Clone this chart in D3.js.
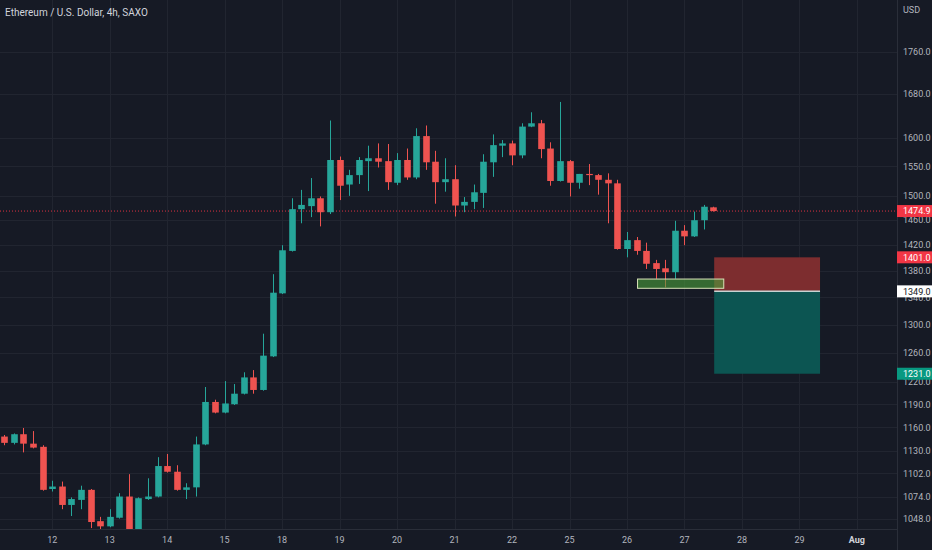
<!DOCTYPE html>
<html><head><meta charset="utf-8">
<script src="https://cdn.jsdelivr.net/npm/d3@7"></script>
<style>html,body{margin:0;padding:0;background:#161a25;overflow:hidden}</style>
</head><body><svg id="c" width="932" height="550"></svg>
<script>
// ---- data (4h candles, ETH/USD SAXO) ----
const opens  = [1148,1140,1151,1139,1135,1083,1086,1064,1070,1082,1045,1039,1049,1074,1030,1071,1074,1111,1104,1082,
                1085,1138,1193,1179,1190,1204,1226,1209,1255,1346,1411,1478,1483,1496,1473,1561,1519,1535,1559,1564,
                1559,1522,1561,1531,1603,1558,1523,1528,1484,1490,1505,1557,1586,1590,1569,1620,1626,1581,1525,1559,
                1522,1537,1535,1527,1521,1414,1428,1411,1392,1384,1378,1443,1434,1460,1481];
const highs  = [1150,1152,1159,1155,1137,1093,1092,1073,1087,1083,1050,1059,1078,1101,1073,1096,1122,1126,1112,1090,
                1148,1213,1196,1221,1217,1233,1236,1287,1375,1420,1496,1510,1530,1499,1631,1567,1544,1566,1586,1590,
                1589,1573,1581,1617,1622,1577,1564,1552,1498,1519,1571,1606,1596,1595,1626,1646,1632,1592,1665,1561,
                1537,1554,1537,1538,1527,1441,1433,1424,1397,1397,1459,1452,1474,1485,1482];
const lows   = [1137,1138,1128,1133,1081,1080,1059,1051,1059,1037,1035,1038,1048,1026,1026,1070,1073,1103,1081,1071,
                1074,1137,1178,1178,1189,1203,1204,1208,1254,1345,1410,1455,1465,1450,1470,1493,1500,1520,1508,1548,
                1510,1518,1527,1528,1544,1487,1507,1466,1473,1478,1480,1532,1566,1552,1564,1619,1564,1517,1524,1499,
                1512,1518,1502,1455,1413,1401,1405,1383,1368,1355,1368,1420,1433,1445,1474];
const closes = [1140,1151,1139,1134,1082,1086,1064,1071,1082,1044,1039,1050,1074,1030,1072,1074,1111,1104,1082,1085,
                1138,1193,1179,1191,1204,1226,1209,1256,1347,1412,1478,1485,1496,1473,1561,1517,1535,1561,1564,1558,
                1523,1561,1531,1603,1557,1523,1528,1484,1490,1506,1558,1587,1590,1569,1620,1626,1580,1525,1559,1522,
                1537,1535,1527,1521,1414,1428,1411,1391,1383,1378,1443,1434,1460,1482,1474.9];
const dayLabels = ["12","13","14","15","18","19","20","21","22","25","26","27","28","29","Aug"];
const dayIndex  = [5,11,17,23,29,35,41,47,53,59,65,71,77,83,89];
const priceTicks = [1760,1680,1600,1550,1500,1460,1420,1380,1340,1300,1260,1220,1190,1160,1130,1102,1074,1048];
const lastPrice = 1474.9, stopPrice = 1401, entryPrice = 1349, targetPrice = 1231;
const zoneLow = 1353.6, zoneHigh = 1367.6, zoneStart = 66.1, zoneEnd = 75.1;
const rrStart = 74.1, rrEnd = 85.15;
const title = "Ethereum / U.S. Dollar, 4h, SAXO";

// ---- layout ----
const W = 932, H = 550, plotR = 897, plotB = 529;
const bg = "#161a25", gridC = "#212530", axisText = "#b2b5be";
const up = "#26a69a", dn = "#ef5350";
const svg = d3.select("#c");
svg.append("rect").attr("width", W).attr("height", H).attr("fill", bg);

const x = d3.scaleLinear().domain([0, 89]).range([4.3, 4.3 + 89 * 9.58]);
const y = d3.scaleLog().domain([1760, 1000]).range([52, 52 + 900 * Math.log(1.76)]);

const font = "Roboto, 'Open Sans', sans-serif";

// grid
const grid = svg.append("g");
grid.selectAll("line.v").data(dayIndex).join("line")
  .attr("x1", d => Math.round(x(d)) + 0.5).attr("x2", d => Math.round(x(d)) + 0.5)
  .attr("y1", 0).attr("y2", plotB).attr("stroke", gridC).attr("stroke-width", 1);
grid.selectAll("line.h").data(priceTicks).join("line")
  .attr("x1", 0).attr("x2", plotR)
  .attr("y1", d => Math.round(y(d)) + 0.5).attr("y2", d => Math.round(y(d)) + 0.5)
  .attr("stroke", gridC).attr("stroke-width", 1);

// plot clip
svg.append("clipPath").attr("id", "pc").append("rect").attr("x", 0).attr("y", 0).attr("width", plotR).attr("height", plotB);
const plot = svg.append("g").attr("clip-path", "url(#pc)");

// last price dotted line
plot.append("line").attr("x1", 0).attr("x2", plotR)
  .attr("y1", y(lastPrice)).attr("y2", y(lastPrice))
  .attr("stroke", "#f23645").attr("stroke-width", 1).attr("stroke-dasharray", "1,2").attr("opacity", 0.9);

// candles
const data = opens.map((o, i) => ({i, o, h: highs[i], l: lows[i], c: closes[i]}));
const cg = plot.append("g");
cg.selectAll("line.w").data(data).join("line")
  .attr("x1", d => Math.round(x(d.i)) + 0.5).attr("x2", d => Math.round(x(d.i)) + 0.5)
  .attr("y1", d => y(d.h)).attr("y2", d => y(d.l))
  .attr("stroke", d => d.c >= d.o ? up : dn).attr("stroke-width", 1);
const bw = 6.6;
cg.selectAll("rect.b").data(data).join("rect")
  .attr("x", d => Math.round(x(d.i)) + 0.5 - bw / 2).attr("width", bw)
  .attr("y", d => Math.min(y(d.o), y(d.c)))
  .attr("height", d => Math.max(1, Math.abs(y(d.o) - y(d.c))))
  .attr("fill", d => d.c >= d.o ? up : dn);

// risk/reward box
plot.append("rect").attr("x", x(rrStart)).attr("width", x(rrEnd) - x(rrStart))
  .attr("y", y(stopPrice)).attr("height", y(entryPrice) - y(stopPrice)).attr("fill", "#7d2d2f");
plot.append("rect").attr("x", x(rrStart)).attr("width", x(rrEnd) - x(rrStart))
  .attr("y", y(entryPrice)).attr("height", y(targetPrice) - y(entryPrice)).attr("fill", "#0c5552");
plot.append("line").attr("x1", x(rrStart)).attr("x2", x(rrEnd))
  .attr("y1", y(entryPrice)).attr("y2", y(entryPrice)).attr("stroke", "#c8d3d2").attr("stroke-width", 1.5);

// demand zone
plot.append("rect").attr("x", x(zoneStart)).attr("width", x(zoneEnd) - x(zoneStart))
  .attr("y", y(zoneHigh)).attr("height", y(zoneLow) - y(zoneHigh))
  .attr("fill", "rgba(76,160,60,0.6)").attr("stroke", "#d8e2b8").attr("stroke-width", 1);

// axis borders
svg.append("line").attr("x1", plotR + 0.5).attr("x2", plotR + 0.5).attr("y1", 0).attr("y2", H).attr("stroke", "#2a2e39");
svg.append("line").attr("x1", 0).attr("x2", plotR).attr("y1", plotB + 0.5).attr("y2", plotB + 0.5).attr("stroke", "#2a2e39");

// price axis labels
const fmt = d3.format(".1f");
svg.append("g").selectAll("text").data(priceTicks).join("text")
  .attr("x", 903).attr("y", d => y(d) + 3.3)
  .attr("font-family", font).attr("font-size", 9).attr("fill", axisText)
  .text(d => fmt(d));
svg.append("text").attr("x", 903).attr("y", 13).attr("font-family", font).attr("font-size", 9)
  .attr("fill", axisText).text("USD");

// price tags
const tags = [
  {v: lastPrice, bgc: "#f23645", tc: "#ffffff"},
  {v: stopPrice, bgc: "#f23645", tc: "#ffffff"},
  {v: entryPrice, bgc: "#ffffff", tc: "#131722"},
  {v: targetPrice, bgc: "#089981", tc: "#ffffff"}
];
const tg = svg.append("g");
tags.forEach(t => {
  tg.append("rect").attr("x", plotR).attr("y", y(t.v) - 6).attr("width", W - plotR).attr("height", 12).attr("fill", t.bgc);
  tg.append("text").attr("x", 903).attr("y", y(t.v) + 3.3).attr("font-family", font).attr("font-size", 9)
    .attr("fill", t.tc).text(fmt(t.v));
});

// time axis labels
svg.append("g").selectAll("text").data(dayLabels).join("text")
  .attr("x", (d, k) => x(dayIndex[k])).attr("y", 543)
  .attr("text-anchor", "middle").attr("font-family", font).attr("font-size", 9)
  .attr("fill", d => d === "Aug" ? "#d1d4dc" : axisText)
  .attr("font-weight", d => d === "Aug" ? "bold" : "normal")
  .text(d => d);

// title
svg.append("text").attr("x", 5).attr("y", 16).attr("font-family", font).attr("font-size", 10)
  .attr("fill", "#d1d4dc").text(title);
</script></body></html>
